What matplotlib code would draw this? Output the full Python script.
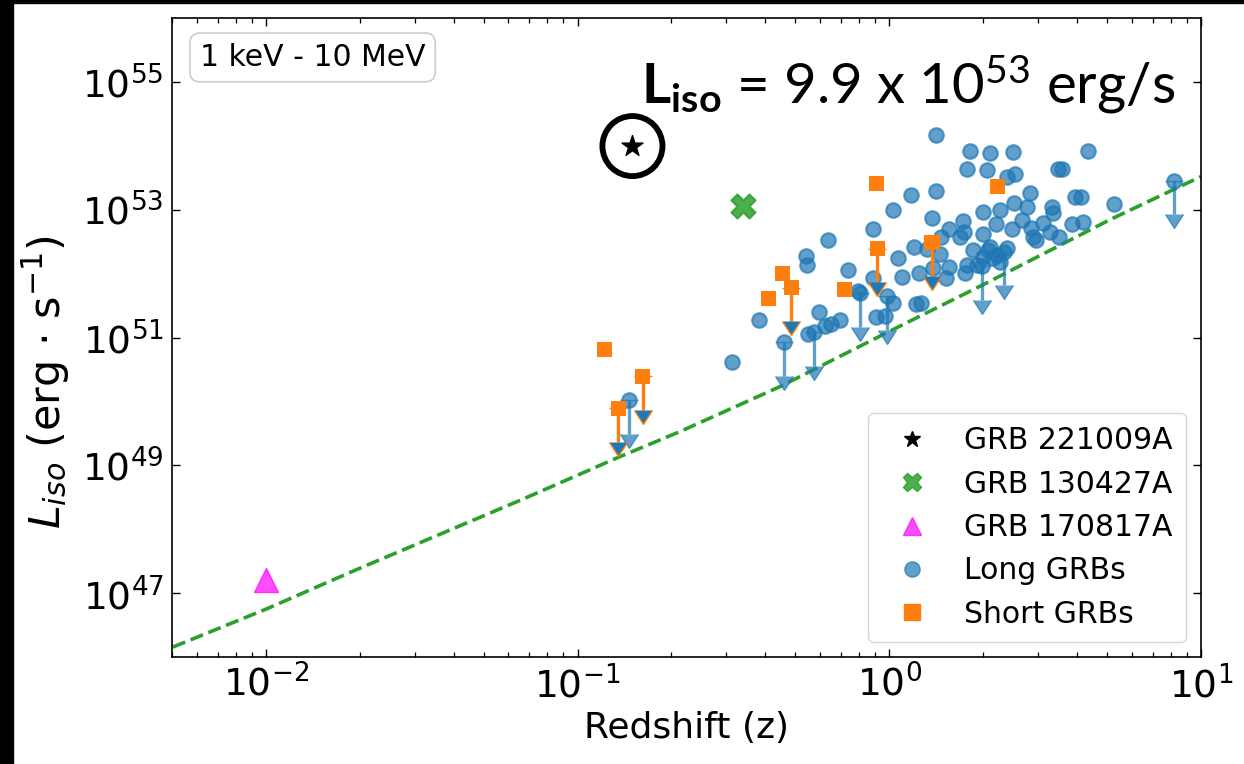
import numpy as np
import matplotlib
matplotlib.use("Agg")
import matplotlib.pyplot as plt
from matplotlib.lines import Line2D
from matplotlib.patches import Rectangle
from matplotlib.ticker import FixedLocator, NullLocator, LogLocator

# ---------------- data ----------------
# Long GRBs (detections): redshift and isotropic luminosity [erg/s]
long_z = [0.314, 0.383, 0.542, 0.546, 0.596, 0.637, 0.550, 0.624, 0.652, 0.697,
          0.739, 0.796, 0.889, 0.889, 0.908, 0.971, 1.03, 1.03, 1.07, 1.10,
          1.17, 1.20, 1.22, 1.26, 1.25, 1.32, 1.37, 1.41, 1.41, 1.38,
          1.45, 1.52, 1.55, 1.55, 1.46, 1.69, 1.73, 1.74, 1.77, 1.82,
          1.77, 1.75, 1.86, 2.00, 2.00, 2.00, 2.06, 2.11, 2.11, 2.20,
          2.22, 2.27, 2.39, 2.39, 2.50, 2.53, 2.48, 2.52, 2.67, 2.77,
          2.83, 2.85, 2.89, 2.96, 3.12, 3.28, 3.33, 3.35, 3.48, 3.58,
          3.51, 3.86, 4.19, 3.95, 4.12, 4.34, 5.26, 1.91, 2.15, 2.27,
          2.08]
long_L = [4.2e50, 1.85e51, 1.91e52, 1.38e52, 2.55e51, 3.4e52, 1.15e51, 1.49e51, 1.6e51, 1.85e51,
          1.15e52, 5.4e51, 5.0e52, 8.4e51, 2.1e51, 2.2e51, 3.5e51, 1.0e53, 1.78e52, 9.0e51,
          1.7e53, 2.6e52, 3.3e51, 3.5e51, 1.04e52, 2.46e52, 7.5e52, 1.98e53, 1.49e54, 1.24e52,
          2.05e52, 8.4e51, 5.0e52, 1.29e52, 3.8e52, 3.8e52, 6.7e52, 4.5e52, 4.4e53, 8.4e53,
          1.38e52, 1.04e52, 2.37e52, 9.3e52, 4.1e52, 1.84e52, 4.2e53, 7.8e53, 2.6e52, 6.0e52,
          1.98e52, 1.0e53, 2.55e52, 3.2e53, 8.1e53, 3.65e53, 5.0e52, 1.29e53, 7.0e52, 1.11e53,
          1.85e53, 5.2e52, 3.8e52, 3.4e52, 6.3e52, 4.4e52, 1.11e53, 9.0e52, 4.4e53, 4.4e53,
          3.8e52, 6.0e52, 6.5e52, 1.6e53, 1.6e53, 8.4e53, 1.24e53, 1.38e52, 1.78e52, 1.54e52,
          2.37e52]

# Long GRBs with upper limits only
long_ul_z = [0.146, 0.461, 0.575, 0.807, 0.985, 1.99, 2.34, 8.19]
long_ul_L = [1.04e50, 8.4e50, 1.2e51, 4.9e51, 4.4e51, 1.3e52, 2.2e52, 2.84e53]

# Short GRBs (detections and upper limits)
short_z = [0.122, 0.41, 0.454, 0.718, 0.908, 2.22]
short_L = [6.5e50, 4.1e51, 1.0e52, 5.6e51, 2.55e53, 2.3e53]
short_ul_z = [0.135, 0.162, 0.485, 0.915, 1.37]
short_ul_L = [7.8e49, 2.46e50, 6.0e51, 2.46e52, 3.05e52]

# Individual bursts
grb221009a = (0.15, 9.9e53)
grb130427a = (0.34, 1.15e53)
grb170817a = (0.01, 1.6e47)

# Detection threshold curve
thr_z = [0.00503, 0.01, 0.0197, 0.0666, 0.135, 0.214, 0.447, 0.985, 2.0, 5.11, 10.0]
thr_L = [1.43e46, 5.6e46, 2.37e47, 2.94e48, 1.33e49, 3.4e49, 1.71e50, 1.2e51, 6.7e51, 7.0e52, 3.3e53]

# fraction of the value down to which an upper-limit arrow reaches
ul_frac = 0.7

# ---------------- figure ----------------
W, H = 1244, 764
fig = plt.figure(figsize=(W / 100, H / 100), dpi=100)
fig.patch.set_facecolor("white")
ax = fig.add_axes([172 / W, (H - 657) / H, 1029 / W, 639 / H])

blue = "#1f77b4"
orange = "#ff7f0e"
green = "#2ca02c"

ax.plot(thr_z, thr_L, linestyle="--", color=green, lw=2.6, zorder=1)

# long GRBs
ax.scatter(long_z, long_L, s=110, c=blue, edgecolors=blue, linewidths=1.5,
           alpha=0.7, zorder=3)
ax.scatter(long_ul_z, long_ul_L, s=110, c=blue, edgecolors=blue, linewidths=1.5,
           alpha=0.7, zorder=3)
ax.errorbar(long_ul_z, long_ul_L, yerr=ul_frac * np.array(long_ul_L), uplims=True,
            fmt="none", ecolor=blue, elinewidth=2.4, capsize=6.5, alpha=0.7, zorder=2)

# short GRBs
ax.errorbar(short_ul_z, short_ul_L, yerr=ul_frac * np.array(short_ul_L), uplims=True,
            fmt="none", ecolor=orange, elinewidth=2.4, capsize=6.5, zorder=4)
ax.scatter(short_z + short_ul_z, short_L + short_ul_L, s=120, marker="s", c=orange,
           edgecolors="none", zorder=5)

# single events
ax.scatter([grb221009a[0]], [grb221009a[1]], marker="*", s=250, c="k", zorder=6)
ax.scatter([grb221009a[0]], [grb221009a[1]], marker="o", s=1870, facecolors="none",
           edgecolors="k", linewidths=4.2, zorder=6)
ax.scatter([grb130427a[0]], [grb130427a[1]], marker="X", s=300, c=green,
           edgecolors=green, linewidths=1.5, alpha=0.85, zorder=6)
ax.scatter([grb170817a[0]], [grb170817a[1]], marker="^", s=300, c="magenta",
           edgecolors="magenta", alpha=0.7, zorder=6)

# ---------------- axes ----------------
ax.set_xscale("log")
ax.set_yscale("log")
ax.set_xlim(0.005, 10)
ax.set_ylim(1e46, 1e56)
ax.yaxis.set_major_locator(FixedLocator([1e47, 1e49, 1e51, 1e53, 1e55]))
ax.yaxis.set_minor_locator(NullLocator())
ax.xaxis.set_major_locator(LogLocator(base=10, numticks=10))
ax.xaxis.set_minor_locator(LogLocator(base=10, subs=np.arange(2, 10), numticks=20))

ax.tick_params(which="both", direction="in", top=True, right=True)
ax.tick_params(which="major", length=6, width=1.0, labelsize=27, pad=6)
ax.tick_params(which="minor", length=3.5, width=0.9)
for sp in ax.spines.values():
    sp.set_linewidth(1.2)

ax.set_xlabel("Redshift (z)", fontsize=26)
ax.set_ylabel(r"$L_{iso}$ (erg $\cdot$ s$^{-1}$)", fontsize=31)
ax.yaxis.set_label_coords(-0.097, 0.43)

ax.text(0.027, 0.961, "1 keV - 10 MeV", transform=ax.transAxes, fontsize=21.5,
        ha="left", va="top",
        bbox=dict(boxstyle="round,pad=0.33", fc="white", ec="0.8", lw=1.2))

handles = [
    Line2D([], [], marker="*", color="k", linestyle="none", markersize=12),
    Line2D([], [], marker="X", color=green, linestyle="none", markersize=13, alpha=0.85),
    Line2D([], [], marker="^", color="magenta", linestyle="none", markersize=13, alpha=0.7),
    Line2D([], [], marker="o", color=blue, linestyle="none", markersize=11, alpha=0.7),
    Line2D([], [], marker="s", color=orange, linestyle="none", markersize=11),
]
labels = ["GRB 221009A", "GRB 130427A", "GRB 170817A", "Long GRBs", "Short GRBs"]
ax.legend(handles, labels, loc="lower right", fontsize=21.5, labelspacing=0.48,
          borderpad=0.45, handletextpad=0.75, borderaxespad=0.5)

# ---------------- headline ----------------
plt.rcParams["mathtext.rm"] = "Lato"
plt.rcParams["mathtext.it"] = "Lato:italic"
plt.rcParams["mathtext.bf"] = "Lato:bold"
fig.text(641 / W, (H - 103) / H, r"$\mathbf{L_{iso}}$ = 9.9 x 10$^{53}$ erg/s",
         fontsize=40.5, family="Lato", math_fontfamily="custom",
         ha="left", va="baseline")

# dark frame strips at the left and top edges
fig.patches.append(Rectangle((0, 0), 13 / W, 1, transform=fig.transFigure,
                             color="black", zorder=10))
fig.patches.append(Rectangle((0, 1 - 3 / H), 1, 3 / H, transform=fig.transFigure,
                             color="black", zorder=10))

fig.savefig("out.png", dpi=100)
